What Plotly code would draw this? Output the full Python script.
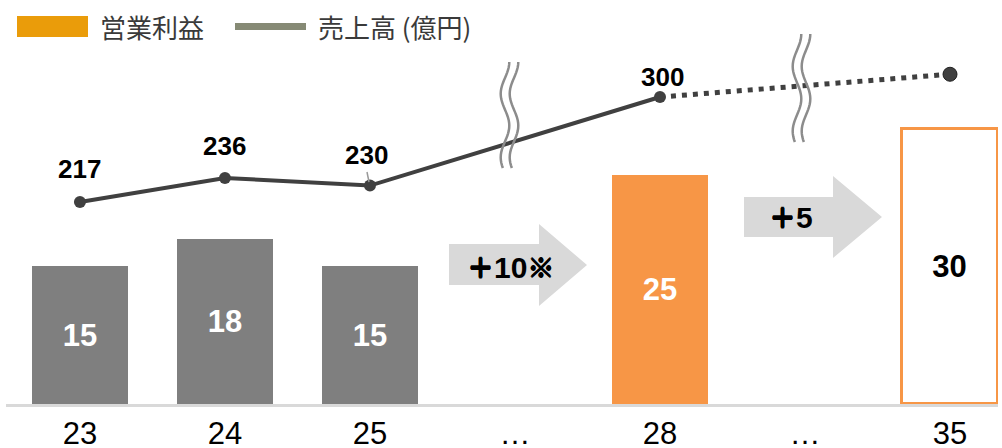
import math
import plotly.graph_objects as go

# ---- data -------------------------------------------------------------
years = ['23', '24', '25', '…', '28', '…', '35']
profit = [15, 18, 15, None, 25, None, 30]        # 営業利益
sales = [217, 236, 230, None, 300, None, 318]    # 売上高 (億円)
step_labels = ['＋10※', '＋5']

# ---- canvas geometry ---------------------------------------------------
W, H = 1002, 448
ML, MR, MT, MB = 6, 4, 0, 44
PW, PH = W - ML - MR, H - MT - MB


def paper(xp, yp):
    """pixel position on the page -> paper coordinates"""
    return (xp - ML) / PW, 1 - (yp - MT) / PH


def path(points, close=False):
    parts = []
    for k, (xp, yp) in enumerate(points):
        px, py = paper(xp, yp)
        parts.append(('M' if k == 0 else 'L') + f'{px:.5f},{py:.5f}')
    return ' '.join(parts) + (' Z' if close else '')


def heavy(text):
    """thicken the full-width symbols, which have no bold face here"""
    sh = ('font-size:27px;text-shadow:0.6px 0 0 black,-0.6px 0 0 black,'
          '0 0.6px 0 black,0 -0.6px 0 black')
    out = ''
    for ch in text:
        out += f'<span style="{sh}">{ch}</span>' if ord(ch) > 0x2000 else ch
    return out


GRAY = '#7f7f7f'
ORANGE = '#F79646'
LINE = '#404040'
NUM_FONT = 'Liberation Sans, Arial, sans-serif'
JP_FONT = 'Noto Sans CJK JP, sans-serif'

fig = go.Figure()

# ---- profit bars ------------------------------------------------------
bx = [i for i, v in enumerate(profit) if v is not None]
by = [profit[i] for i in bx]
fills = [GRAY, GRAY, GRAY, ORANGE, 'white']
edges = ['rgba(0,0,0,0)'] * 4 + [ORANGE]
edge_w = [0, 0, 0, 0, 3]
txt_col = ['white'] * 4 + ['black']

fig.add_trace(go.Bar(
    x=bx, y=by, width=0.662,
    marker=dict(color=fills, line=dict(color=edges, width=edge_w)),
    text=[str(v) for v in by], textposition='inside',
    insidetextanchor='middle', textangle=0, constraintext='none',
    textfont=dict(family=NUM_FONT, size=31, color=txt_col, weight='bold'),
    hoverinfo='skip', yaxis='y', cliponaxis=False,
))

# ---- sales line -------------------------------------------------------
sx = [i for i, v in enumerate(sales) if v is not None]
sy = [sales[i] for i in sx]

fig.add_trace(go.Scatter(
    x=sx[:-1], y=sy[:-1], mode='lines+markers', yaxis='y2',
    line=dict(color=LINE, width=4),
    marker=dict(color=LINE, size=12), hoverinfo='skip',
))
fig.add_trace(go.Scatter(
    x=sx[-2:], y=sy[-2:], mode='lines', yaxis='y2',
    line=dict(color=LINE, width=5, dash='5px,6px'), hoverinfo='skip',
))
fig.add_trace(go.Scatter(
    x=[sx[-1]], y=[sy[-1]], mode='markers', yaxis='y2',
    marker=dict(color=LINE, size=14, line=dict(color='#222222', width=1)),
    hoverinfo='skip',
))

# value labels over the solid part of the line
lab_dy = [33, 32, 31, 20]
lab_dx = [0, 0, -3, 3]
annotations = []
for k, i in enumerate(sx[:-1]):
    annotations.append(dict(
        x=i, y=sales[i], xref='x', yref='y2', text=str(sales[i]),
        showarrow=False, xshift=lab_dx[k], yshift=lab_dy[k],
        font=dict(family=NUM_FONT, size=26, color='black', weight='bold'),
    ))

shapes = []

# leader tick under "230"
x0p, y0p = paper(367, 172)
x1p, y1p = paper(369, 182)
shapes.append(dict(type='line', xref='paper', yref='paper',
                   x0=x0p, y0=y0p, x1=x1p, y1=y1p,
                   line=dict(color='#9a9a9a', width=1.5)))

# ---- growth arrows ----------------------------------------------------
arrow_geo = [
    # body x0, body x1, body top, body bottom, head top, head bottom, tip x, tip y, text x, text y
    (449, 539, 244, 285, 224, 306, 587, 265, 511, 267),
    (744, 833, 197, 237, 176, 258, 882, 217, 791, 217),
]
for label, (bx0, bx1, bt, bb, ht, hb, tx, ty, cx, cy) in zip(step_labels, arrow_geo):
    pts = [(bx0, bt), (bx1, bt), (bx1, ht), (tx, ty), (bx1, hb), (bx1, bb), (bx0, bb)]
    shapes.append(dict(type='path', xref='paper', yref='paper',
                       path=path(pts, close=True), fillcolor='#d9d9d9',
                       line=dict(width=0), layer='below'))
    px, py = paper(cx, cy)
    annotations.append(dict(
        x=px, y=py, xref='paper', yref='paper', text=heavy(label), showarrow=False,
        xanchor='center', yanchor='middle',
        font=dict(family='Liberation Sans, Noto Sans CJK JP, sans-serif',
                  size=30, color='black', weight='bold'),
    ))

# ---- axis-break marks -------------------------------------------------
def wave(cx, top, bottom, amp=4.3, n=40):
    pts = []
    for j in range(n + 1):
        t = j / n
        pts.append((cx + amp * math.cos(2 * math.pi * t / 0.6), top + t * (bottom - top)))
    return pts


for cx, top, bottom in [(505, 62, 168), (797, 34, 142)]:
    for off in (0, 9):
        shapes.append(dict(type='path', xref='paper', yref='paper',
                           path=path(wave(cx + off, top, bottom)),
                           line=dict(color='#8c8c8c', width=2.5)))

# ---- legend -----------------------------------------------------------
lx0, ly0 = paper(17, 16)
lx1, ly1 = paper(88, 37)
shapes.append(dict(type='rect', xref='paper', yref='paper',
                   x0=lx0, y0=ly0, x1=lx1, y1=ly1,
                   fillcolor='#EA9C0A', line=dict(width=0)))
lx0, ly0 = paper(235, 26.5)
lx1, _ = paper(306, 26.5)
shapes.append(dict(type='line', xref='paper', yref='paper',
                   x0=lx0, y0=ly0, x1=lx1, y1=ly0,
                   line=dict(color='#868A75', width=7)))
for text, xp in [('営業利益', 98), ('売上高 (億円)', 316)]:
    px, py = paper(xp, 26)
    annotations.append(dict(
        x=px, y=py, xref='paper', yref='paper', text=text, showarrow=False,
        xanchor='left', yanchor='middle',
        font=dict(family=JP_FONT, size=26, color='#3a3a3a'),
    ))

fig.update_layout(
    width=W, height=H,
    margin=dict(l=ML, r=MR, t=MT, b=MB, autoexpand=False),
    paper_bgcolor='white', plot_bgcolor='white',
    showlegend=False, bargap=0,
    xaxis=dict(range=[-0.510, 6.331], tickmode='array',
               tickvals=list(range(len(years))), ticktext=years,
               showgrid=False, zeroline=False, showline=True,
               linecolor='#d9d9d9', linewidth=3, ticks='',
               ticklabelstandoff=0, automargin=False,
               tickfont=dict(family=NUM_FONT, size=31, color='black')),
    yaxis=dict(range=[0, 44.06], visible=False, fixedrange=True, automargin=False),
    yaxis2=dict(range=[57.3, 376.7], visible=False, overlaying='y', automargin=False),
    shapes=shapes, annotations=annotations,
)

fig.write_html('out.html')
